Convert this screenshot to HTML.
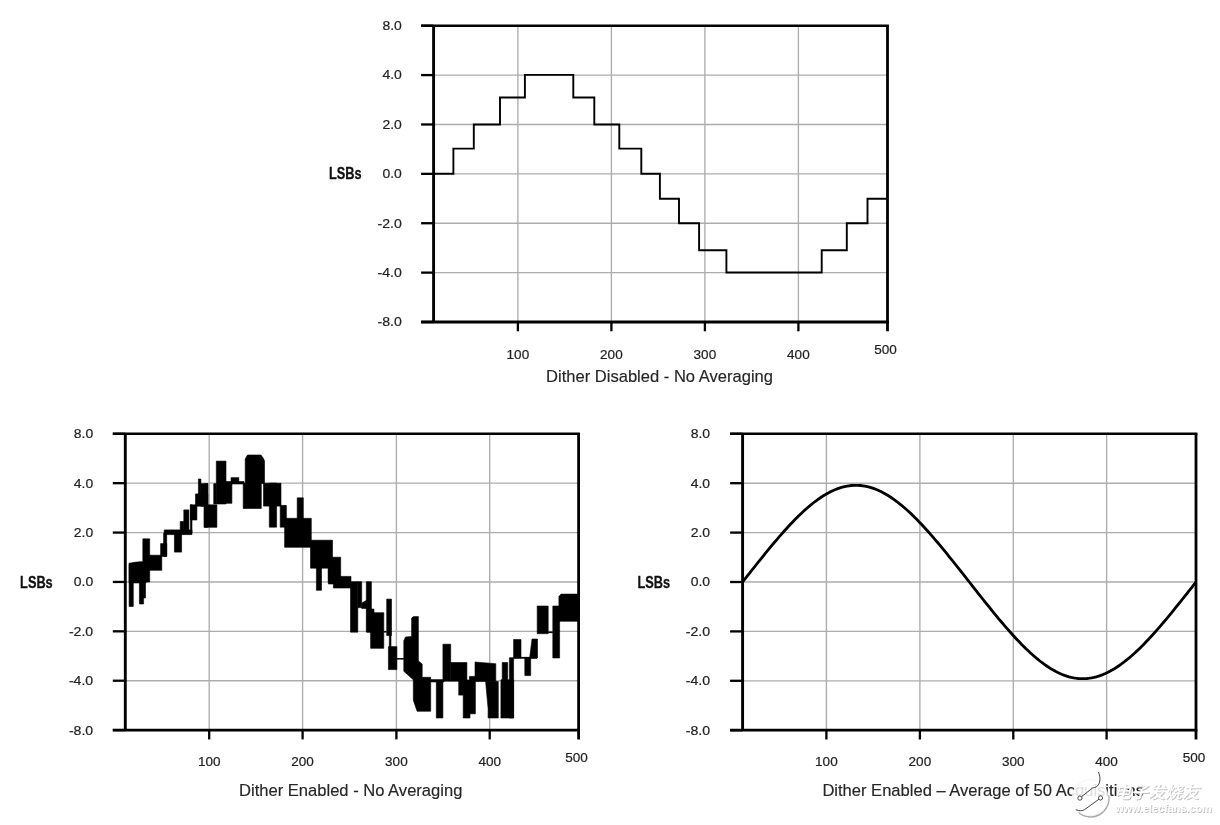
<!DOCTYPE html>
<html lang="en"><head><meta charset="utf-8"><title>Dither charts</title>
<style>
html,body{margin:0;padding:0;background:#fff;}
body{width:1220px;height:825px;overflow:hidden;}
svg{display:block;filter:blur(0.3px);}
text{font-family:"Liberation Sans","Noto Sans CJK SC",sans-serif;}
.n{font-size:13.2px;fill:#222;stroke:#222;stroke-width:0.2px;}
.l{font-size:16.3px;font-weight:700;fill:#111;stroke:#111;stroke-width:0.3px;}
.t{font-size:16.2px;fill:#262626;stroke:#262626;stroke-width:0.15px;}
</style></head><body>
<svg width="1220" height="825" viewBox="0 0 1220 825">
<rect width="1220" height="825" fill="#fff"/>
<line x1="433.6" y1="75.08" x2="887.5" y2="75.08" stroke="#adadad" stroke-width="1.35"/>
<line x1="433.6" y1="124.47" x2="887.5" y2="124.47" stroke="#adadad" stroke-width="1.35"/>
<line x1="433.6" y1="173.85" x2="887.5" y2="173.85" stroke="#adadad" stroke-width="1.35"/>
<line x1="433.6" y1="223.23" x2="887.5" y2="223.23" stroke="#adadad" stroke-width="1.35"/>
<line x1="433.6" y1="272.62" x2="887.5" y2="272.62" stroke="#adadad" stroke-width="1.35"/>
<line x1="517.9" y1="25.7" x2="517.9" y2="322" stroke="#adadad" stroke-width="1.35"/>
<line x1="611.4" y1="25.7" x2="611.4" y2="322" stroke="#adadad" stroke-width="1.35"/>
<line x1="704.9" y1="25.7" x2="704.9" y2="322" stroke="#adadad" stroke-width="1.35"/>
<line x1="798.4" y1="25.7" x2="798.4" y2="322" stroke="#adadad" stroke-width="1.35"/>
<path d="M433.6 173.7 H453.4 V148.6 H473.8 V124.5 H500 V97.5 H524.9 V74.9 H573.3 V97.5 H594.3 V124.5 H619.3 V148.6 H641.3 V173.7 H659.9 V198.8 H679 V223.2 H699.1 V250.2 H726.4 V272.5 H821.7 V250.2 H846.8 V223.2 H867.5 V198.8 H887.5" fill="none" stroke="#000" stroke-width="1.9" stroke-linejoin="miter"/>
<line x1="421.1" y1="25.7" x2="433.6" y2="25.7" stroke="#000" stroke-width="2.3"/>
<line x1="421.1" y1="75.08" x2="433.6" y2="75.08" stroke="#000" stroke-width="2.3"/>
<line x1="421.1" y1="124.47" x2="433.6" y2="124.47" stroke="#000" stroke-width="2.3"/>
<line x1="421.1" y1="173.85" x2="433.6" y2="173.85" stroke="#000" stroke-width="2.3"/>
<line x1="421.1" y1="223.23" x2="433.6" y2="223.23" stroke="#000" stroke-width="2.3"/>
<line x1="421.1" y1="272.62" x2="433.6" y2="272.62" stroke="#000" stroke-width="2.3"/>
<line x1="421.1" y1="322" x2="433.6" y2="322" stroke="#000" stroke-width="2.3"/>
<line x1="517.9" y1="322" x2="517.9" y2="331.3" stroke="#000" stroke-width="2.3"/>
<line x1="611.4" y1="322" x2="611.4" y2="331.3" stroke="#000" stroke-width="2.3"/>
<line x1="704.9" y1="322" x2="704.9" y2="331.3" stroke="#000" stroke-width="2.3"/>
<line x1="798.4" y1="322" x2="798.4" y2="331.3" stroke="#000" stroke-width="2.3"/>
<line x1="421.1" y1="25.7" x2="888.9" y2="25.7" stroke="#000" stroke-width="2.6"/>
<line x1="421.1" y1="322" x2="888.9" y2="322" stroke="#000" stroke-width="2.8"/>
<line x1="433.6" y1="25.7" x2="433.6" y2="322" stroke="#000" stroke-width="2.9"/>
<line x1="887.5" y1="25.7" x2="887.5" y2="331.3" stroke="#000" stroke-width="2.8"/>
<text x="382.4" y="30.1" class="n" textLength="19.4" lengthAdjust="spacingAndGlyphs">8.0</text>
<text x="382.4" y="79.48" class="n" textLength="19.4" lengthAdjust="spacingAndGlyphs">4.0</text>
<text x="382.4" y="128.87" class="n" textLength="19.4" lengthAdjust="spacingAndGlyphs">2.0</text>
<text x="382.4" y="178.25" class="n" textLength="19.4" lengthAdjust="spacingAndGlyphs">0.0</text>
<text x="377.5" y="227.63" class="n" textLength="24.3" lengthAdjust="spacingAndGlyphs">-2.0</text>
<text x="377.5" y="277.02" class="n" textLength="24.3" lengthAdjust="spacingAndGlyphs">-4.0</text>
<text x="377.5" y="326.4" class="n" textLength="24.3" lengthAdjust="spacingAndGlyphs">-8.0</text>
<text x="506.6" y="358.5" class="n" textLength="22.6" lengthAdjust="spacingAndGlyphs">100</text>
<text x="600.1" y="358.5" class="n" textLength="22.6" lengthAdjust="spacingAndGlyphs">200</text>
<text x="693.6" y="358.5" class="n" textLength="22.6" lengthAdjust="spacingAndGlyphs">300</text>
<text x="787.1" y="358.5" class="n" textLength="22.6" lengthAdjust="spacingAndGlyphs">400</text>
<text x="874.2" y="353.8" class="n" textLength="22.6" lengthAdjust="spacingAndGlyphs">500</text>
<text x="328.9" y="179.45" class="l" textLength="32.6" lengthAdjust="spacingAndGlyphs">LSBs</text>
<text x="546" y="382.3" class="t" textLength="227" lengthAdjust="spacingAndGlyphs">Dither Disabled - No Averaging</text>
<line x1="125.3" y1="483.18" x2="578.6" y2="483.18" stroke="#adadad" stroke-width="1.35"/>
<line x1="125.3" y1="532.57" x2="578.6" y2="532.57" stroke="#adadad" stroke-width="1.35"/>
<line x1="125.3" y1="581.95" x2="578.6" y2="581.95" stroke="#adadad" stroke-width="1.35"/>
<line x1="125.3" y1="631.33" x2="578.6" y2="631.33" stroke="#adadad" stroke-width="1.35"/>
<line x1="125.3" y1="680.72" x2="578.6" y2="680.72" stroke="#adadad" stroke-width="1.35"/>
<line x1="209.2" y1="433.8" x2="209.2" y2="730.1" stroke="#adadad" stroke-width="1.35"/>
<line x1="302.6" y1="433.8" x2="302.6" y2="730.1" stroke="#adadad" stroke-width="1.35"/>
<line x1="396.4" y1="433.8" x2="396.4" y2="730.1" stroke="#adadad" stroke-width="1.35"/>
<line x1="489.7" y1="433.8" x2="489.7" y2="730.1" stroke="#adadad" stroke-width="1.35"/>
<g fill="#000" stroke="#000" stroke-width="0.6" stroke-linejoin="round">
<rect x="129.1" y="563.0" width="4.2" height="43.5"/>
<rect x="139.4" y="582.0" width="4.2" height="22.0"/>
<rect x="143.4" y="582.0" width="2.1" height="16.0"/>
<rect x="142.8" y="538.8" width="6.9" height="43.2"/>
<rect x="149.1" y="555.2" width="12.7" height="15.1"/>
<rect x="160.6" y="543.6" width="6.1" height="12.8"/>
<rect x="163.6" y="533.3" width="3.1" height="23.1"/>
<rect x="164.2" y="529.9" width="27.8" height="4.7"/>
<rect x="174.4" y="532.0" width="7.2" height="20.1"/>
<rect x="180.2" y="521.5" width="3.6" height="12.4"/>
<rect x="183.8" y="509.9" width="5.1" height="24.0"/>
<rect x="190.4" y="504.8" width="6.5" height="15.2"/>
<rect x="190.4" y="504.8" width="1.6" height="28.3"/>
<rect x="195.5" y="493.9" width="12.3" height="12.3"/>
<rect x="198.4" y="479.0" width="2.5" height="15.0"/>
<rect x="200.9" y="483.7" width="6.9" height="22.5"/>
<rect x="204.2" y="483.7" width="3.6" height="43.6"/>
<rect x="204.2" y="504.8" width="12.7" height="22.5"/>
<rect x="213.7" y="483.7" width="2.6" height="20.3"/>
<rect x="216.3" y="461.1" width="9.7" height="42.9"/>
<rect x="222.4" y="482.9" width="9.5" height="20.4"/>
<rect x="226.0" y="481.5" width="18.0" height="2.5"/>
<rect x="231.0" y="477.6" width="7.8" height="4.4"/>
<rect x="263.5" y="483.2" width="17.5" height="22.9"/>
<rect x="269.3" y="483.2" width="7.3" height="44.0"/>
<rect x="280.2" y="505.4" width="5.1" height="21.8"/>
<rect x="284.6" y="518.3" width="26.7" height="29.0"/>
<rect x="297.2" y="497.8" width="6.1" height="22.2"/>
<rect x="284.6" y="505.5" width="1.8" height="14.5"/>
<rect x="310.5" y="540.2" width="22.0" height="28.0"/>
<rect x="316.4" y="568.0" width="5.1" height="22.3"/>
<rect x="328.3" y="568.0" width="4.2" height="13.8"/>
<rect x="328.3" y="557.2" width="12.4" height="26.8"/>
<rect x="333.4" y="576.4" width="17.6" height="11.6"/>
<rect x="350.5" y="581.7" width="7.3" height="50.5"/>
<rect x="357.8" y="581.7" width="3.9" height="25.9"/>
<rect x="366.3" y="581.7" width="5.1" height="50.5"/>
<rect x="370.6" y="612.7" width="13.2" height="35.6"/>
<rect x="367.2" y="609.0" width="6.8" height="23.0"/>
<rect x="386.7" y="599.1" width="4.8" height="36.5"/>
<rect x="389.3" y="635.0" width="1.7" height="12.0"/>
<rect x="388.4" y="646.6" width="8.5" height="23.0"/>
<rect x="430.7" y="679.6" width="13.3" height="2.4"/>
<rect x="436.3" y="680.7" width="6.6" height="37.3"/>
<rect x="442.9" y="644.2" width="7.8" height="37.0"/>
<rect x="450.7" y="662.5" width="16.2" height="18.7"/>
<rect x="458.7" y="681.0" width="8.2" height="14.1"/>
<rect x="463.2" y="680.0" width="6.8" height="38.0"/>
<rect x="469.4" y="676.4" width="6.0" height="37.4"/>
<rect x="500.9" y="679.8" width="12.7" height="38.2"/>
<rect x="502.2" y="662.5" width="5.5" height="17.5"/>
<rect x="509.4" y="657.7" width="4.2" height="60.3"/>
<rect x="513.6" y="639.5" width="7.4" height="18.5"/>
<rect x="524.8" y="657.7" width="5.9" height="17.9"/>
<rect x="537.2" y="606.0" width="11.0" height="27.7"/>
<rect x="552.8" y="606.0" width="6.8" height="52.0"/>
<polygon points="129.1,564.2 133.0,562.5 139.0,561.8 146.1,561.8 146.1,583.0 129.1,583.0"/>
<polygon points="243.2,508.5 243.2,483.0 245.2,483.0 245.2,459.0 247.5,455.0 261.0,455.0 263.5,458.5 264.5,461.0 264.5,483.6 261.3,483.6 261.3,508.5"/>
<polygon points="361.7,603.0 367.2,600.0 367.2,608.4 361.7,608.4"/>
<polygon points="403.8,640.8 405.5,637.0 411.6,636.5 411.6,618.0 413.5,616.6 418.4,616.6 418.4,661.0 422.2,664.0 422.2,677.3 430.7,677.3 430.7,711.3 417.1,711.3 413.3,700.2 413.3,679.8 403.8,671.3"/>
<polygon points="475.0,662.0 495.8,663.7 495.8,681.5 475.0,681.5"/>
<polygon points="485.6,681.5 488.1,708.7 488.1,718.0 498.3,718.0 498.3,681.5"/>
<polygon points="529.6,658.0 532.0,639.0 537.5,639.0 537.5,658.0"/>
<polygon points="558.9,596.5 561.0,594.1 578.8,594.1 578.8,621.3 558.9,621.3"/>
<line x1="383.8" y1="631.8" x2="386.7" y2="631.8" stroke-width="1.5"/>
<line x1="396.9" y1="658.8" x2="404.5" y2="658.8" stroke-width="1.5"/>
<line x1="513.6" y1="657.8" x2="537" y2="657.8" stroke-width="1.8"/>
<line x1="548.2" y1="632.3" x2="552.8" y2="632.3" stroke-width="1.6"/>
</g>
<line x1="112.8" y1="433.8" x2="125.3" y2="433.8" stroke="#000" stroke-width="2.3"/>
<line x1="112.8" y1="483.18" x2="125.3" y2="483.18" stroke="#000" stroke-width="2.3"/>
<line x1="112.8" y1="532.57" x2="125.3" y2="532.57" stroke="#000" stroke-width="2.3"/>
<line x1="112.8" y1="581.95" x2="125.3" y2="581.95" stroke="#000" stroke-width="2.3"/>
<line x1="112.8" y1="631.33" x2="125.3" y2="631.33" stroke="#000" stroke-width="2.3"/>
<line x1="112.8" y1="680.72" x2="125.3" y2="680.72" stroke="#000" stroke-width="2.3"/>
<line x1="112.8" y1="730.1" x2="125.3" y2="730.1" stroke="#000" stroke-width="2.3"/>
<line x1="209.2" y1="730.1" x2="209.2" y2="739.4" stroke="#000" stroke-width="2.3"/>
<line x1="302.6" y1="730.1" x2="302.6" y2="739.4" stroke="#000" stroke-width="2.3"/>
<line x1="396.4" y1="730.1" x2="396.4" y2="739.4" stroke="#000" stroke-width="2.3"/>
<line x1="489.7" y1="730.1" x2="489.7" y2="739.4" stroke="#000" stroke-width="2.3"/>
<line x1="112.8" y1="433.8" x2="580" y2="433.8" stroke="#000" stroke-width="2.6"/>
<line x1="112.8" y1="730.1" x2="580" y2="730.1" stroke="#000" stroke-width="2.8"/>
<line x1="125.3" y1="433.8" x2="125.3" y2="730.1" stroke="#000" stroke-width="2.9"/>
<line x1="578.6" y1="433.8" x2="578.6" y2="739.4" stroke="#000" stroke-width="2.8"/>
<text x="73.8" y="438.2" class="n" textLength="19.4" lengthAdjust="spacingAndGlyphs">8.0</text>
<text x="73.8" y="487.58" class="n" textLength="19.4" lengthAdjust="spacingAndGlyphs">4.0</text>
<text x="73.8" y="536.97" class="n" textLength="19.4" lengthAdjust="spacingAndGlyphs">2.0</text>
<text x="73.8" y="586.35" class="n" textLength="19.4" lengthAdjust="spacingAndGlyphs">0.0</text>
<text x="68.9" y="635.73" class="n" textLength="24.3" lengthAdjust="spacingAndGlyphs">-2.0</text>
<text x="68.9" y="685.12" class="n" textLength="24.3" lengthAdjust="spacingAndGlyphs">-4.0</text>
<text x="68.9" y="734.5" class="n" textLength="24.3" lengthAdjust="spacingAndGlyphs">-8.0</text>
<text x="197.9" y="766" class="n" textLength="22.6" lengthAdjust="spacingAndGlyphs">100</text>
<text x="291.3" y="766" class="n" textLength="22.6" lengthAdjust="spacingAndGlyphs">200</text>
<text x="385.1" y="766" class="n" textLength="22.6" lengthAdjust="spacingAndGlyphs">300</text>
<text x="478.4" y="766" class="n" textLength="22.6" lengthAdjust="spacingAndGlyphs">400</text>
<text x="565.3" y="761.8" class="n" textLength="22.6" lengthAdjust="spacingAndGlyphs">500</text>
<text x="20.1" y="587.55" class="l" textLength="32.6" lengthAdjust="spacingAndGlyphs">LSBs</text>
<text x="239" y="796.4" class="t" textLength="223.4" lengthAdjust="spacingAndGlyphs">Dither Enabled - No Averaging</text>
<line x1="742.6" y1="483.2" x2="1196" y2="483.2" stroke="#adadad" stroke-width="1.35"/>
<line x1="742.6" y1="532.6" x2="1196" y2="532.6" stroke="#adadad" stroke-width="1.35"/>
<line x1="742.6" y1="582" x2="1196" y2="582" stroke="#adadad" stroke-width="1.35"/>
<line x1="742.6" y1="631.4" x2="1196" y2="631.4" stroke="#adadad" stroke-width="1.35"/>
<line x1="742.6" y1="680.8" x2="1196" y2="680.8" stroke="#adadad" stroke-width="1.35"/>
<line x1="826.4" y1="433.8" x2="826.4" y2="730.2" stroke="#adadad" stroke-width="1.35"/>
<line x1="919.9" y1="433.8" x2="919.9" y2="730.2" stroke="#adadad" stroke-width="1.35"/>
<line x1="1013.3" y1="433.8" x2="1013.3" y2="730.2" stroke="#adadad" stroke-width="1.35"/>
<line x1="1106.6" y1="433.8" x2="1106.6" y2="730.2" stroke="#adadad" stroke-width="1.35"/>
<polyline points="742.6,582 744.87,579.11 747.13,576.23 749.4,573.35 751.67,570.47 753.94,567.61 756.2,564.75 758.47,561.9 760.74,559.07 763,556.26 765.27,553.46 767.54,550.68 769.8,547.93 772.07,545.2 774.34,542.5 776.61,539.83 778.87,537.19 781.14,534.59 783.41,532.02 785.67,529.49 787.94,527.01 790.21,524.57 792.47,522.18 794.74,519.84 797.01,517.55 799.27,515.32 801.54,513.15 803.81,511.04 806.08,508.99 808.34,507.02 810.61,505.11 812.88,503.28 815.14,501.52 817.41,499.84 819.68,498.24 821.95,496.72 824.21,495.29 826.48,493.95 828.75,492.7 831.01,491.54 833.28,490.47 835.55,489.5 837.81,488.63 840.08,487.85 842.35,487.18 844.62,486.61 846.88,486.14 849.15,485.77 851.42,485.51 853.68,485.35 855.95,485.3 858.22,485.35 860.48,485.51 862.75,485.77 865.02,486.14 867.29,486.61 869.55,487.18 871.82,487.85 874.09,488.63 876.35,489.5 878.62,490.47 880.89,491.54 883.15,492.7 885.42,493.95 887.69,495.29 889.96,496.72 892.22,498.24 894.49,499.84 896.76,501.52 899.02,503.28 901.29,505.11 903.56,507.02 905.82,508.99 908.09,511.04 910.36,513.15 912.62,515.32 914.89,517.55 917.16,519.84 919.43,522.18 921.69,524.57 923.96,527.01 926.23,529.49 928.49,532.02 930.76,534.59 933.03,537.19 935.3,539.83 937.56,542.5 939.83,545.2 942.1,547.93 944.36,550.68 946.63,553.46 948.9,556.26 951.16,559.07 953.43,561.9 955.7,564.75 957.97,567.61 960.23,570.47 962.5,573.35 964.77,576.23 967.03,579.11 969.3,582 971.57,584.89 973.83,587.77 976.1,590.65 978.37,593.53 980.63,596.39 982.9,599.25 985.17,602.1 987.44,604.93 989.7,607.74 991.97,610.54 994.24,613.32 996.5,616.07 998.77,618.8 1001.04,621.5 1003.31,624.17 1005.57,626.81 1007.84,629.41 1010.11,631.98 1012.37,634.51 1014.64,636.99 1016.91,639.43 1019.17,641.82 1021.44,644.16 1023.71,646.45 1025.97,648.68 1028.24,650.85 1030.51,652.96 1032.78,655.01 1035.04,656.98 1037.31,658.89 1039.58,660.72 1041.84,662.48 1044.11,664.16 1046.38,665.76 1048.64,667.28 1050.91,668.71 1053.18,670.05 1055.45,671.3 1057.71,672.46 1059.98,673.53 1062.25,674.5 1064.51,675.37 1066.78,676.15 1069.05,676.82 1071.32,677.39 1073.58,677.86 1075.85,678.23 1078.12,678.49 1080.38,678.65 1082.65,678.7 1084.92,678.65 1087.18,678.49 1089.45,678.23 1091.72,677.86 1093.99,677.39 1096.25,676.82 1098.52,676.15 1100.79,675.37 1103.05,674.5 1105.32,673.53 1107.59,672.46 1109.85,671.3 1112.12,670.05 1114.39,668.71 1116.65,667.28 1118.92,665.76 1121.19,664.16 1123.46,662.48 1125.72,660.72 1127.99,658.89 1130.26,656.98 1132.52,655.01 1134.79,652.96 1137.06,650.85 1139.33,648.68 1141.59,646.45 1143.86,644.16 1146.13,641.82 1148.39,639.43 1150.66,636.99 1152.93,634.51 1155.19,631.98 1157.46,629.41 1159.73,626.81 1161.99,624.17 1164.26,621.5 1166.53,618.8 1168.8,616.07 1171.06,613.32 1173.33,610.54 1175.6,607.74 1177.86,604.93 1180.13,602.1 1182.4,599.25 1184.66,596.39 1186.93,593.53 1189.2,590.65 1191.47,587.77 1193.73,584.89 1196,582" fill="none" stroke="#000" stroke-width="2.8" stroke-linejoin="round"/>
<line x1="730.1" y1="433.8" x2="742.6" y2="433.8" stroke="#000" stroke-width="2.3"/>
<line x1="730.1" y1="483.2" x2="742.6" y2="483.2" stroke="#000" stroke-width="2.3"/>
<line x1="730.1" y1="532.6" x2="742.6" y2="532.6" stroke="#000" stroke-width="2.3"/>
<line x1="730.1" y1="582" x2="742.6" y2="582" stroke="#000" stroke-width="2.3"/>
<line x1="730.1" y1="631.4" x2="742.6" y2="631.4" stroke="#000" stroke-width="2.3"/>
<line x1="730.1" y1="680.8" x2="742.6" y2="680.8" stroke="#000" stroke-width="2.3"/>
<line x1="730.1" y1="730.2" x2="742.6" y2="730.2" stroke="#000" stroke-width="2.3"/>
<line x1="826.4" y1="730.2" x2="826.4" y2="739.5" stroke="#000" stroke-width="2.3"/>
<line x1="919.9" y1="730.2" x2="919.9" y2="739.5" stroke="#000" stroke-width="2.3"/>
<line x1="1013.3" y1="730.2" x2="1013.3" y2="739.5" stroke="#000" stroke-width="2.3"/>
<line x1="1106.6" y1="730.2" x2="1106.6" y2="739.5" stroke="#000" stroke-width="2.3"/>
<line x1="730.1" y1="433.8" x2="1197.4" y2="433.8" stroke="#000" stroke-width="2.6"/>
<line x1="730.1" y1="730.2" x2="1197.4" y2="730.2" stroke="#000" stroke-width="2.8"/>
<line x1="742.6" y1="433.8" x2="742.6" y2="730.2" stroke="#000" stroke-width="2.9"/>
<line x1="1196" y1="433.8" x2="1196" y2="739.5" stroke="#000" stroke-width="2.8"/>
<text x="690.7" y="438.2" class="n" textLength="19.4" lengthAdjust="spacingAndGlyphs">8.0</text>
<text x="690.7" y="487.6" class="n" textLength="19.4" lengthAdjust="spacingAndGlyphs">4.0</text>
<text x="690.7" y="537" class="n" textLength="19.4" lengthAdjust="spacingAndGlyphs">2.0</text>
<text x="690.7" y="586.4" class="n" textLength="19.4" lengthAdjust="spacingAndGlyphs">0.0</text>
<text x="685.8" y="635.8" class="n" textLength="24.3" lengthAdjust="spacingAndGlyphs">-2.0</text>
<text x="685.8" y="685.2" class="n" textLength="24.3" lengthAdjust="spacingAndGlyphs">-4.0</text>
<text x="685.8" y="734.6" class="n" textLength="24.3" lengthAdjust="spacingAndGlyphs">-8.0</text>
<text x="815.1" y="765.9" class="n" textLength="22.6" lengthAdjust="spacingAndGlyphs">100</text>
<text x="908.6" y="765.9" class="n" textLength="22.6" lengthAdjust="spacingAndGlyphs">200</text>
<text x="1002" y="765.9" class="n" textLength="22.6" lengthAdjust="spacingAndGlyphs">300</text>
<text x="1095.3" y="765.9" class="n" textLength="22.6" lengthAdjust="spacingAndGlyphs">400</text>
<text x="1182.7" y="761.6" class="n" textLength="22.6" lengthAdjust="spacingAndGlyphs">500</text>
<text x="637.5" y="587.6" class="l" textLength="32.6" lengthAdjust="spacingAndGlyphs">LSBs</text>
<text x="822.4" y="796.4" class="t" textLength="321.6" lengthAdjust="spacingAndGlyphs">Dither Enabled – Average of 50 Acquisitions</text>
<g>
<path d="M1108.6 795.2 A18.3 18.3 0 0 1 1078.6 812.4" fill="none" stroke="#8f8f8f" stroke-width="1.5" opacity="0.75"/>
<circle cx="1090.1" cy="797.7" r="18" fill="#fff" opacity="0.86"/>
<circle cx="1090.1" cy="797.7" r="18" fill="none" stroke="#f1f1f1" stroke-width="0.7"/>
<path d="M1098.6 772.3 C1099.6 775 1100.2 777.5 1099.9 780 C1099.7 783 1098.6 785.5 1096.3 786.8 C1094.8 787.6 1093.6 787.6 1092.4 788.1 L1081.9 796.4" fill="none" stroke="#3a3a3a" stroke-width="0.95" stroke-linecap="round"/>
<circle cx="1079.9" cy="798.1" r="2.1" fill="#fff" stroke="#3a3a3a" stroke-width="0.9"/>
<path d="M1098.7 799.4 L1084.6 809.6 C1082.5 811 1079.5 811.2 1076.2 809.9" fill="none" stroke="#3a3a3a" stroke-width="0.95" stroke-linecap="round"/>
<circle cx="1100.5" cy="797.9" r="2.1" fill="#fff" stroke="#3a3a3a" stroke-width="0.9"/>
<text x="1114.9" y="799" style="font-size:16.6px;font-weight:500;font-style:italic;fill:#c2c2c2" textLength="85" lengthAdjust="spacingAndGlyphs">电子发烧友</text>
<text x="1114" y="798.1" style="font-size:16.6px;font-weight:500;font-style:italic;fill:#fff" textLength="85" lengthAdjust="spacingAndGlyphs">电子发烧友</text>
<text x="1116" y="813" style="font-size:11.5px;font-weight:700;fill:#bfbfbf" textLength="96.5" lengthAdjust="spacingAndGlyphs">www.elecfans.com</text>
<text x="1115.2" y="812.2" style="font-size:11.5px;font-weight:700;fill:#fff" textLength="96.5" lengthAdjust="spacingAndGlyphs">www.elecfans.com</text>
</g>
</svg></body></html>
